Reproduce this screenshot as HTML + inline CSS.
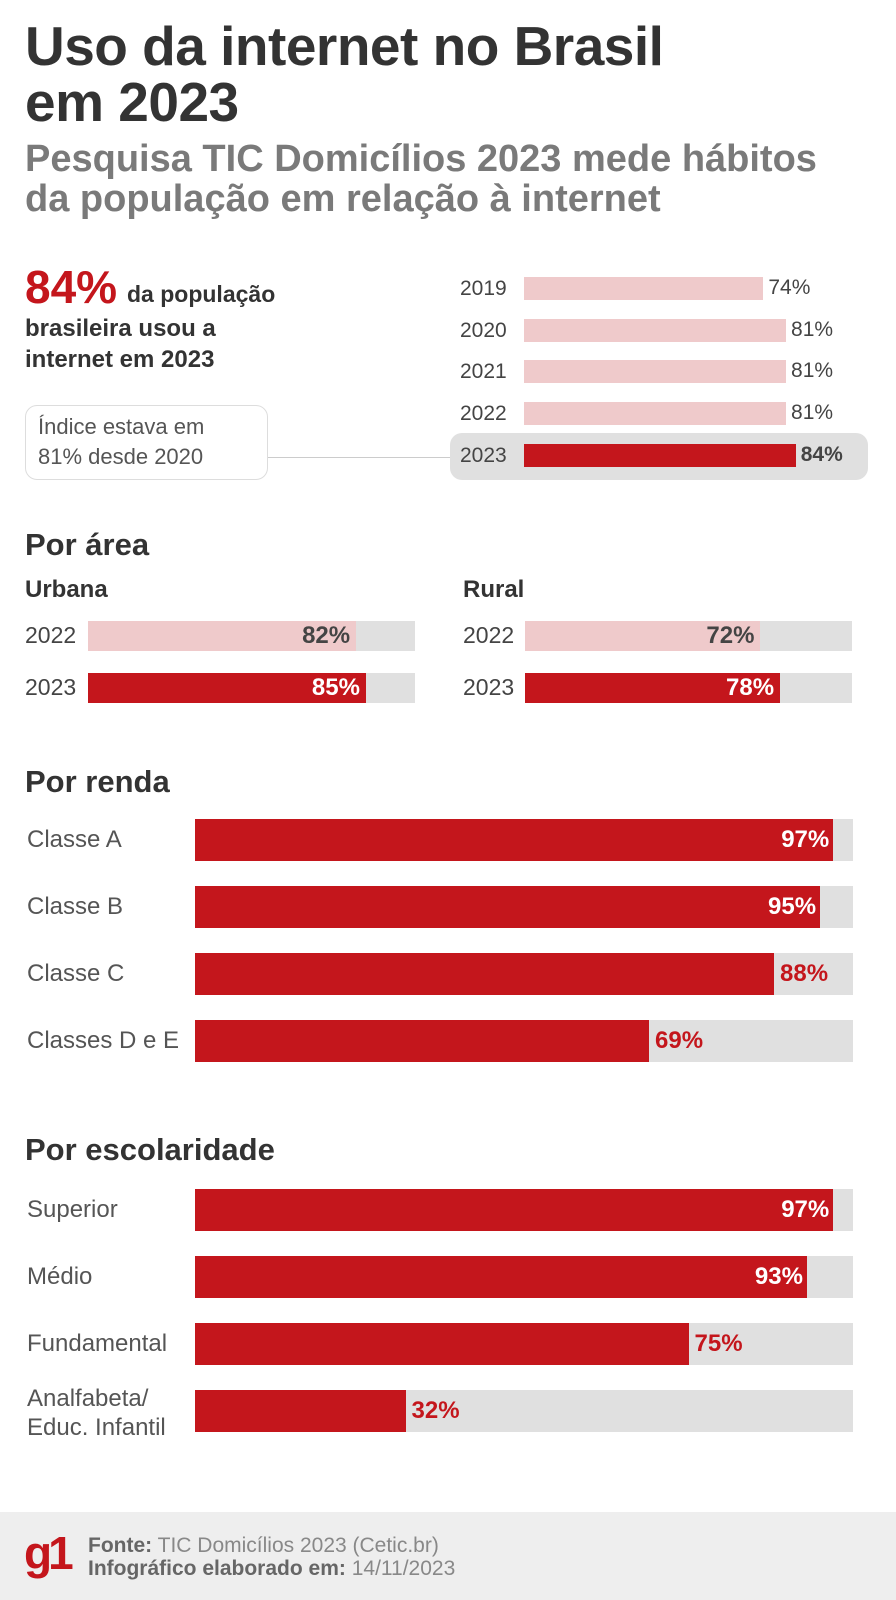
<!DOCTYPE html>
<html><head><meta charset="utf-8">
<style>
*{margin:0;padding:0;box-sizing:border-box}
body{width:896px;height:1600px;background:#fff;font-family:"Liberation Sans",sans-serif;position:relative;overflow:hidden;color:#333}
.abs{position:absolute;white-space:nowrap}
.t{font-weight:bold;font-size:55px;color:#333;letter-spacing:-0.5px}
.st{font-weight:bold;font-size:38px;color:#7a7a7a}
.h2{font-weight:bold;font-size:31px;color:#333}
</style></head><body>
<div class="abs t" style="left:25px;top:14px">Uso da internet no Brasil</div>
<div class="abs t" style="left:25px;top:70px">em 2023</div>
<div class="abs st" style="left:25px;top:138px">Pesquisa TIC Domicílios 2023 mede hábitos</div>
<div class="abs st" style="left:25px;top:178px">da população em relação à internet</div>

<div class="abs" style="left:25px;top:260px;font-size:46px;font-weight:bold;color:#c4161c">84%</div>
<div class="abs" style="left:127px;top:281px;font-size:23px;font-weight:bold;color:#333">da população</div>
<div class="abs" style="left:25px;top:313px;font-size:24px;font-weight:bold;color:#333;line-height:31px">brasileira usou a<br>internet em 2023</div>

<div class="abs" style="left:25px;top:405px;width:243px;height:75px;border:1.5px solid #ddd;border-radius:12px;background:#fff;padding:6px 12px;font-size:22px;color:#555;line-height:30px;white-space:normal">Índice estava em<br>81% desde 2020</div>
<div class="abs" style="left:268px;top:457px;width:182px;height:1px;background:#ccc"></div>
<div class="abs" style="left:450px;top:433px;width:418px;height:47px;background:#e0e0e0;border-radius:12px"></div>

<div class="abs h2" style="left:25px;top:527px">Por área</div>
<div class="abs" style="left:25px;top:576px;font-size:24px;font-weight:bold">Urbana</div>
<div class="abs" style="left:463px;top:576px;font-size:24px;font-weight:bold">Rural</div>

<div class="abs h2" style="left:25px;top:764px">Por renda</div>
<div class="abs h2" style="left:25px;top:1132px">Por escolaridade</div>

<div class="abs" style="left:0;top:1512px;width:896px;height:88px;background:#eee"></div>
<div class="abs" style="left:24px;top:1526px;font-size:46px;font-weight:bold;color:#c4161c;letter-spacing:-4px">g1</div>
<div class="abs" style="left:88px;top:1534px;font-size:21px;color:#888;line-height:23px"><b style="color:#666">Fonte:</b> TIC Domicílios 2023 (Cetic.br)<br><b style="color:#666">Infográfico elaborado em:</b> 14/11/2023</div>

<script>
const RED='#c4161c', PINK='#efcacb', TRACK='#e0e0e0';
// Top chart
const yearCats=['2019','2020','2021','2022','2023'];
const yearVals=[74,81,81,81,84];
// Area
const areaYears=['2022','2023'];
const urbanaVals=[82,85];
const ruralVals=[72,78];
// Renda
const rendaCats=['Classe A','Classe B','Classe C','Classes D e E'];
const rendaVals=[97,95,88,69];
// Escolaridade
const escCats=['Superior','Médio','Fundamental','Analfabeta/\nEduc. Infantil'];
const escVals=[97,93,75,32];

function div(css,name,text){
  const d=document.createElement('div');
  d.className='abs';d.style.cssText=css;
  
  
  if(text!==undefined)d.textContent=text;
  document.body.appendChild(d);return d;
}
(function(){
  const x0=524, unit=3.235, y0=277, step=41.7, h=23;
  yearCats.forEach((c,i)=>{
    const y=y0+i*step, w=yearVals[i]*unit, last=i===yearCats.length-1;
    div(`left:460px;top:${y}px;font-size:21px;color:#444`,'year-label-'+c,c);
    div(`left:${x0}px;top:${y}px;width:${w}px;height:${h}px;background:${last?RED:PINK}`,'bar-'+c);
    div(`left:${x0+w+5}px;top:${y-1}px;font-size:21px;color:#444;${last?'font-weight:bold;':''}`,'value-'+c,yearVals[i]+'%');
  });
})();
function area(x0,vals,prefix){
  const tw=327, y0=621, step=52, h=30;
  areaYears.forEach((c,i)=>{
    const y=y0+i*step, w=vals[i]/100*tw, cur=i===1;
    div(`left:${prefix==='rural'?x0-62:25}px;top:${y+1}px;font-size:23px;color:#444`,prefix+'-year-'+c,c);
    div(`left:${x0}px;top:${y}px;width:${tw}px;height:${h}px;background:${TRACK}`,prefix+'-track-'+c);
    div(`left:${x0}px;top:${y}px;width:${w}px;height:${h}px;background:${cur?RED:PINK}`,prefix+'-bar-'+c);
    div(`left:${x0}px;top:${y+1}px;width:${w-6}px;text-align:right;font-size:24px;font-weight:bold;color:${cur?'#fff':'#444'}`,prefix+'-value-'+c,vals[i]+'%');
  });
}
area(88,urbanaVals,'urbana');
area(525,ruralVals,'rural');
function group(cats,vals,y0,prefix){
  const x0=195, tw=658, step=67, h=42;
  cats.forEach((c,i)=>{
    const y=y0+i*step, w=vals[i]/100*tw;
    const lines=c.split('\n');
    const lab=div(`left:27px;top:${lines.length>1?y-6:y+6}px;font-size:24px;color:#555;line-height:29px`,prefix+'-label-'+i);
    lab.innerHTML=lines.join('<br>');
    div(`left:${x0}px;top:${y}px;width:${tw}px;height:${h}px;background:${TRACK}`,prefix+'-track-'+i);
    div(`left:${x0}px;top:${y}px;width:${w}px;height:${h}px;background:${RED}`,prefix+'-bar-'+i);
    if(vals[i]>90){
      div(`left:${x0}px;top:${y+7}px;width:${w-4}px;text-align:right;font-size:24px;font-weight:bold;color:#fff`,prefix+'-value-'+i,vals[i]+'%');
    }else{
      div(`left:${x0+w+6}px;top:${y+7}px;font-size:24px;font-weight:bold;color:${RED}`,prefix+'-value-'+i,vals[i]+'%');
    }
  });
}
group(rendaCats,rendaVals,819,'renda');
group(escCats,escVals,1189,'escolaridade');
</script>
</body></html>
